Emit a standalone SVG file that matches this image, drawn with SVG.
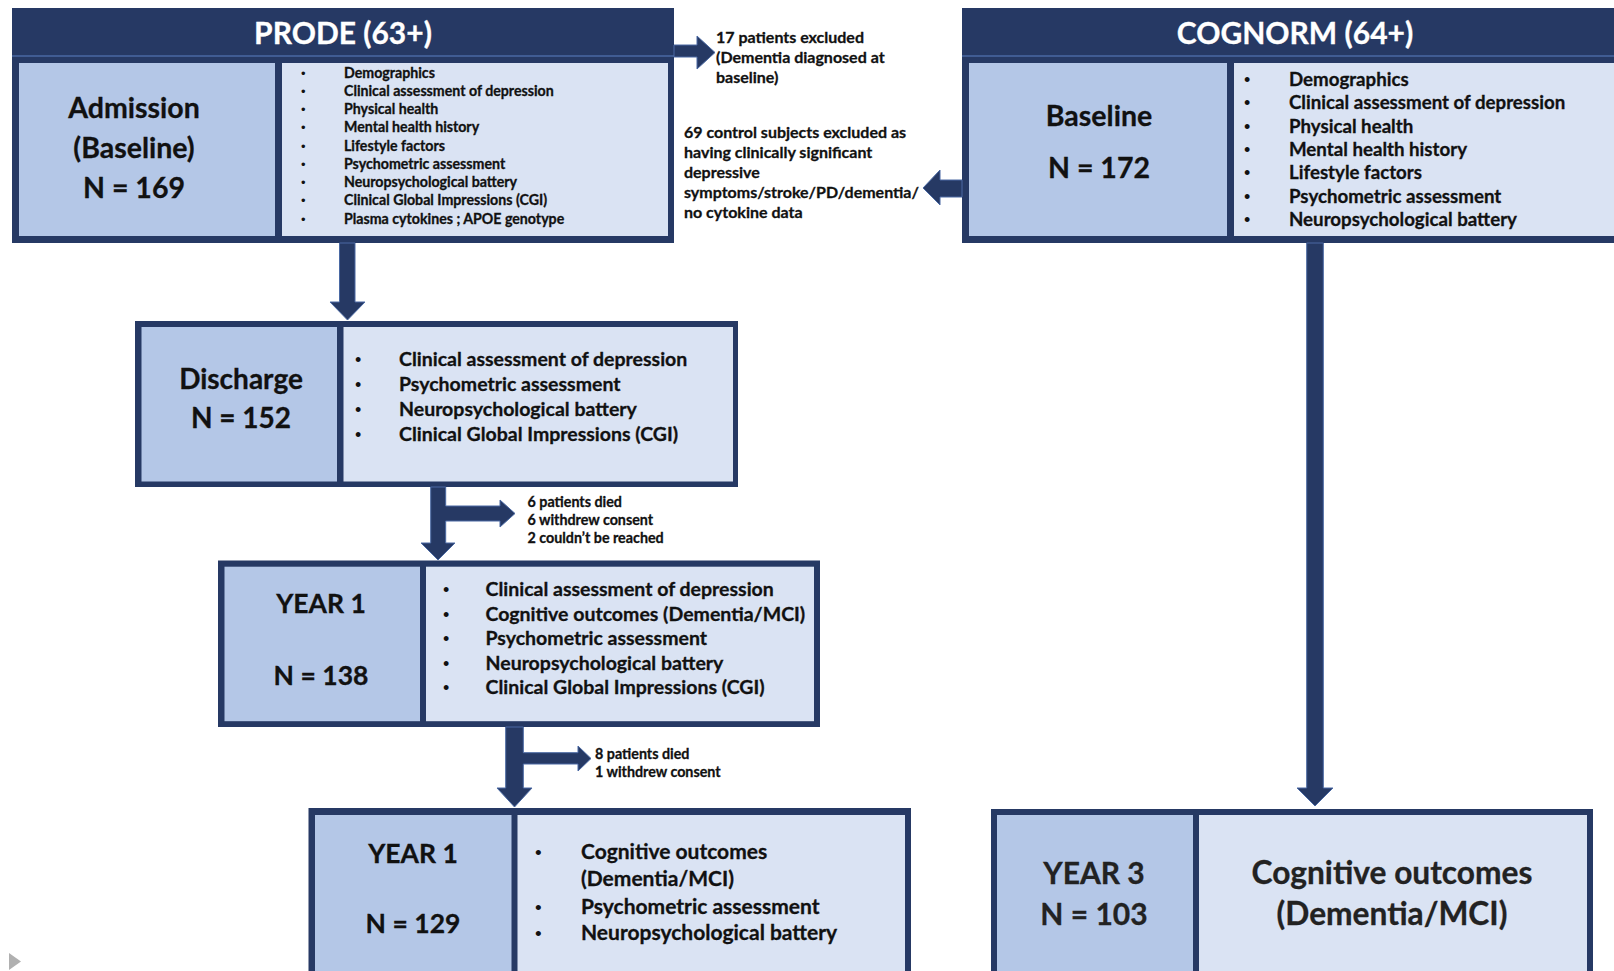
<svg xmlns="http://www.w3.org/2000/svg" width="1614" height="971" viewBox="0 0 1614 971">
<style>
.frame{fill:#263964;}
.hdrline{stroke:#4a69a3;stroke-width:1.5;}
.lc{fill:#b4c7e7;}
.rc{fill:#dae3f3;}
.arr{fill:#263964;stroke:#4a69a3;stroke-width:1;}
text{font-family:"Lato","Liberation Sans",sans-serif;font-weight:bold;fill:#111;stroke:#111;stroke-width:0.3px;}
.hdr{font-size:30px;fill:#fff;stroke:#fff;text-anchor:middle;}
.lbl{font-size:28.5px;text-anchor:middle;}
.lbl27{font-size:28px;text-anchor:middle;}
.lbl26{font-size:26.5px;text-anchor:middle;}
.big{font-size:30px;text-anchor:middle;fill:#222;stroke:#222;}
.big2{font-size:31.7px;text-anchor:middle;fill:#222;stroke:#222;}
.b13{font-size:14.2px;}
.b17{font-size:18.7px;}
.b18{font-size:19.5px;}
.b21{font-size:21px;}
.ex{font-size:16px;}
.sm{font-size:14.3px;}
.dot{font-family:"Liberation Sans",sans-serif;font-weight:normal;stroke:none;}
.b13 .dot{font-size:13px;}
.b17 .dot{font-size:18px;}
.b18 .dot{font-size:18px;}
.b21 .dot{font-size:19px;}
</style>
<rect width="1614" height="971" fill="#fff"/>

<g id="prode-baseline">
<rect class="frame" x="12" y="8" width="662" height="235"/>
<line class="hdrline" x1="12" y1="56" x2="674" y2="56"/>
<rect class="lc" x="19" y="63" width="256" height="173"/>
<rect class="rc" x="282" y="63" width="386" height="173"/>
<text class="hdr" x="343" y="44">PRODE (63+)</text>
<text class="lbl" x="134" y="118">Admission</text>
<text class="lbl" x="134" y="158">(Baseline)</text>
<text class="lbl" x="134" y="198">N = 169</text>
<g class="b13">
<text class="dot" x="301" y="77.5">•</text><text x="344" y="77.5">Demographics</text>
<text class="dot" x="301" y="95.75">•</text><text x="344" y="95.75">Clinical assessment of depression</text>
<text class="dot" x="301" y="114">•</text><text x="344" y="114">Physical health</text>
<text class="dot" x="301" y="132.25">•</text><text x="344" y="132.25">Mental health history</text>
<text class="dot" x="301" y="150.5">•</text><text x="344" y="150.5">Lifestyle factors</text>
<text class="dot" x="301" y="168.75">•</text><text x="344" y="168.75">Psychometric assessment</text>
<text class="dot" x="301" y="187">•</text><text x="344" y="187">Neuropsychological battery</text>
<text class="dot" x="301" y="205.25">•</text><text x="344" y="205.25">Clinical Global Impressions (CGI)</text>
<text class="dot" x="301" y="223.5">•</text><text x="344" y="223.5">Plasma cytokines ; APOE genotype</text>
</g>
</g>

<g id="cognorm-baseline">
<rect class="frame" x="962" y="8" width="670" height="235"/>
<line class="hdrline" x1="962" y1="56" x2="1614" y2="56"/>
<rect class="lc" x="969" y="63" width="258" height="173"/>
<rect class="rc" x="1234" y="63" width="400" height="173"/>
<text class="hdr" x="1295" y="44">COGNORM (64+)</text>
<text class="lbl" x="1099" y="126">Baseline</text>
<text class="lbl" x="1099" y="178">N = 172</text>
<g class="b17">
<text class="dot" x="1244" y="86">•</text><text x="1289" y="86">Demographics</text>
<text class="dot" x="1244" y="109.3">•</text><text x="1289" y="109.3">Clinical assessment of depression</text>
<text class="dot" x="1244" y="132.6">•</text><text x="1289" y="132.6">Physical health</text>
<text class="dot" x="1244" y="155.9">•</text><text x="1289" y="155.9">Mental health history</text>
<text class="dot" x="1244" y="179.2">•</text><text x="1289" y="179.2">Lifestyle factors</text>
<text class="dot" x="1244" y="202.5">•</text><text x="1289" y="202.5">Psychometric assessment</text>
<text class="dot" x="1244" y="225.8">•</text><text x="1289" y="225.8">Neuropsychological battery</text>
</g>
</g>

<g id="discharge">
<rect class="frame" x="135" y="321" width="603" height="166"/>
<rect class="lc" x="141.5" y="327" width="195.5" height="154.5"/>
<rect class="rc" x="343.5" y="327" width="389.5" height="154.5"/>
<text class="lbl27" x="241" y="389">Discharge</text>
<text class="lbl27" x="241" y="428">N = 152</text>
<g class="b18">
<text class="dot" x="355" y="365.5">•</text><text x="399" y="365.5">Clinical assessment of depression</text>
<text class="dot" x="355" y="390.5">•</text><text x="399" y="390.5">Psychometric assessment</text>
<text class="dot" x="355" y="415.5">•</text><text x="399" y="415.5">Neuropsychological battery</text>
<text class="dot" x="355" y="440.5">•</text><text x="399" y="440.5">Clinical Global Impressions (CGI)</text>
</g>
</g>

<g id="year1">
<rect class="frame" x="218" y="560.5" width="602" height="166.5"/>
<rect class="lc" x="224.5" y="566.7" width="195.5" height="154.5"/>
<rect class="rc" x="426" y="566.7" width="388" height="154.5"/>
<text class="lbl26" x="321" y="613">YEAR 1</text>
<text class="lbl26" x="321" y="685">N = 138</text>
<g class="b18">
<text class="dot" x="443" y="596">•</text><text x="485.5" y="596">Clinical assessment of depression</text>
<text class="dot" x="443" y="620.5">•</text><text x="485.5" y="620.5">Cognitive outcomes (Dementia/MCI)</text>
<text class="dot" x="443" y="645">•</text><text x="485.5" y="645">Psychometric assessment</text>
<text class="dot" x="443" y="669.5">•</text><text x="485.5" y="669.5">Neuropsychological battery</text>
<text class="dot" x="443" y="694">•</text><text x="485.5" y="694">Clinical Global Impressions (CGI)</text>
</g>
</g>

<g id="year1-followup">
<rect class="frame" x="308.5" y="808" width="602.5" height="180"/>
<rect class="lc" x="315" y="815" width="196.5" height="170"/>
<rect class="rc" x="517.5" y="815" width="387.5" height="170"/>
<text class="lbl26" x="413" y="862.5">YEAR 1</text>
<text class="lbl26" x="413" y="933">N = 129</text>
<g class="b21">
<text class="dot" x="535" y="858.5">•</text><text x="581" y="858.5">Cognitive outcomes</text>
<text x="581" y="886">(Dementia/MCI)</text>
<text class="dot" x="535" y="913.5">•</text><text x="581" y="913.5">Psychometric assessment</text>
<text class="dot" x="535" y="940">•</text><text x="581" y="940">Neuropsychological battery</text>
</g>
</g>

<g id="year3">
<rect class="frame" x="991" y="809" width="602" height="180"/>
<rect class="lc" x="997" y="815" width="196" height="170"/>
<rect class="rc" x="1199" y="815" width="388" height="170"/>
<text class="big" x="1094" y="884">YEAR 3</text>
<text class="big" x="1094" y="925">N = 103</text>
<text class="big2" x="1392" y="884">Cognitive outcomes</text>
<text class="big2" x="1392" y="925">(Dementia/MCI)</text>
</g>

<g id="exclusion-prode">
<text class="ex" x="716" y="42.7">17 patients excluded</text>
<text class="ex" x="716" y="62.7">(Dementia diagnosed at</text>
<text class="ex" x="716" y="82.7">baseline)</text>
</g>
<g id="exclusion-cognorm">
<text class="ex" x="684" y="138.3">69 control subjects excluded as</text>
<text class="ex" x="684" y="158.3">having clinically significant</text>
<text class="ex" x="684" y="178.3">depressive</text>
<text class="ex" x="684" y="198.3">symptoms/stroke/PD/dementia/</text>
<text class="ex" x="684" y="218.3">no cytokine data</text>
</g>
<g id="loss-discharge">
<text class="sm" x="527.5" y="506.7">6 patients died</text>
<text class="sm" x="527.5" y="525">6 withdrew consent</text>
<text class="sm" x="527.5" y="543.3">2 couldn’t be reached</text>
</g>
<g id="loss-year1">
<text class="sm" x="595" y="759">8 patients died</text>
<text class="sm" x="595" y="777">1 withdrew consent</text>
</g>

<g id="connectors">
<polygon class="arr" points="339.5,243 355,243 355,302 365,302 347.5,320 330,302 339.5,302"/>
<polygon class="arr" points="430.7,487 445.7,487 445.7,506 500,506 500,500 515,513.5 500,527 500,521 445.7,521 445.7,543 455,543 438,560 421,543 430.7,543"/>
<polygon class="arr" points="505.7,727 523.3,727 523.3,752.7 578,752.7 578,746 591,758.5 578,771 578,764 523.3,764 523.3,788 532,788 514.5,807 497,788 505.7,788"/>
<polygon class="arr" points="1306.7,243 1323.3,243 1323.3,788 1333,788 1315,806 1297,788 1306.7,788"/>
<polygon class="arr" points="674,45 697,45 697,36 715,52.5 697,69 697,57 674,57"/>
<polygon class="arr" points="962,180 940,180 940,170 923,188 940,205 940,197 962,197"/>
</g>
<polygon points="9,953 21,961.5 9,970" fill="#b0b0b0"/>
</svg>
